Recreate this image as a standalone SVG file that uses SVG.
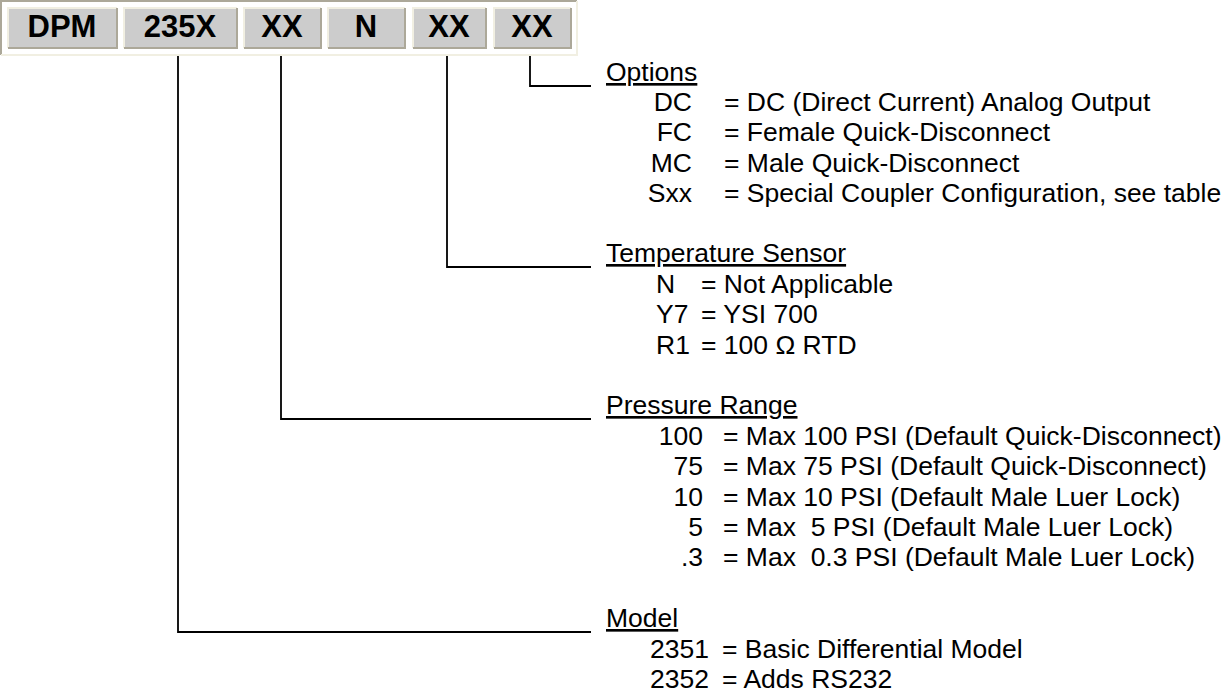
<svg xmlns="http://www.w3.org/2000/svg" width="1225" height="694" viewBox="0 0 1225 694">
<style>
.t { font-family: "Liberation Sans", Arial, sans-serif; font-size: 26.5px; fill: #000; white-space: pre; }
.u { text-decoration: underline; }
.e { text-anchor: end; }
.ct { font-family: "Liberation Sans", Arial, sans-serif; font-size: 31px; font-weight: bold; text-anchor: middle; fill: #000; }
.cb { fill: #CCCCCC; }
.hl { fill: none; stroke: #F1EFE2; stroke-width: 2; }
.sh { fill: none; stroke: #ACA899; stroke-width: 2; }
.conn { fill: none; stroke: #000; stroke-width: 1.8; }
</style>
<rect width="1225" height="694" fill="#fff"/>
<g id="header">
  <path class="sh" d="M1,55 V1 H577"/>
  <path class="hl" d="M1,55 H577 V1"/>
  <g id="cell-dpm"><rect class="cb" x="7" y="7" width="110" height="41"/><path class="hl" d="M8,48 V8 H117"/><path class="sh" d="M8,48 H117 V8"/><text class="ct" x="62" y="37">DPM</text></g>
  <g id="cell-235x"><rect class="cb" x="123" y="7" width="114" height="41"/><path class="hl" d="M124,48 V8 H237"/><path class="sh" d="M124,48 H237 V8"/><text class="ct" x="180" y="37">235X</text></g>
  <g id="cell-range"><rect class="cb" x="243" y="7" width="78" height="41"/><path class="hl" d="M244,48 V8 H321"/><path class="sh" d="M244,48 H321 V8"/><text class="ct" x="282" y="37">XX</text></g>
  <g id="cell-n"><rect class="cb" x="327" y="7" width="78" height="41"/><path class="hl" d="M328,48 V8 H405"/><path class="sh" d="M328,48 H405 V8"/><text class="ct" x="366" y="37">N</text></g>
  <g id="cell-temp"><rect class="cb" x="412" y="7" width="74" height="41"/><path class="hl" d="M413,48 V8 H486"/><path class="sh" d="M413,48 H486 V8"/><text class="ct" x="449" y="37">XX</text></g>
  <g id="cell-opt"><rect class="cb" x="493" y="7" width="78" height="41"/><path class="hl" d="M494,48 V8 H571"/><path class="sh" d="M494,48 H571 V8"/><text class="ct" x="532" y="37">XX</text></g>
</g>
<g id="connectors">
  <path class="conn" d="M530,56 V86 H591"/>
  <path class="conn" d="M447,56 V267 H591"/>
  <path class="conn" d="M281,56 V419 H591"/>
  <path class="conn" d="M178,56 V632 H591"/>
</g>
<g id="options">
  <text class="t u" x="606" y="81">Options</text>
  <text class="t e" x="692" y="111">DC</text><text class="t" x="724" y="111">= DC (Direct Current) Analog Output</text>
  <text class="t e" x="692" y="141">FC</text><text class="t" x="724" y="141">= Female Quick-Disconnect</text>
  <text class="t e" x="692" y="172">MC</text><text class="t" x="724" y="172">= Male Quick-Disconnect</text>
  <text class="t e" x="692" y="202">Sxx</text><text class="t" x="724" y="202">= Special Coupler Configuration, see table</text>
</g>
<g id="temperature">
  <text class="t u" x="606" y="262">Temperature Sensor</text>
  <text class="t" x="656" y="293">N</text><text class="t" x="701" y="293">= Not Applicable</text>
  <text class="t" x="656" y="323">Y7</text><text class="t" x="701" y="323">= YSI 700</text>
  <text class="t" x="656" y="354">R1</text><text class="t" x="701" y="354">= 100 Ω RTD</text>
</g>
<g id="pressure">
  <text class="t u" x="606" y="414">Pressure Range</text>
  <text class="t e" x="703" y="445">100</text><text class="t" x="723" y="445">= Max 100 PSI (Default Quick-Disconnect)</text>
  <text class="t e" x="703" y="475">75</text><text class="t" x="723" y="475">= Max 75 PSI (Default Quick-Disconnect)</text>
  <text class="t e" x="703" y="506">10</text><text class="t" x="723" y="506">= Max 10 PSI (Default Male Luer Lock)</text>
  <text class="t e" x="703" y="536">5</text><text class="t" x="723" y="536" xml:space="preserve">= Max  5 PSI (Default Male Luer Lock)</text>
  <text class="t e" x="703" y="566">.3</text><text class="t" x="723" y="566" xml:space="preserve">= Max  0.3 PSI (Default Male Luer Lock)</text>
</g>
<g id="model">
  <text class="t u" x="606" y="627">Model</text>
  <text class="t" x="650" y="658">2351</text><text class="t" x="722" y="658">= Basic Differential Model</text>
  <text class="t" x="650" y="688">2352</text><text class="t" x="722" y="688">= Adds RS232</text>
</g>
</svg>
